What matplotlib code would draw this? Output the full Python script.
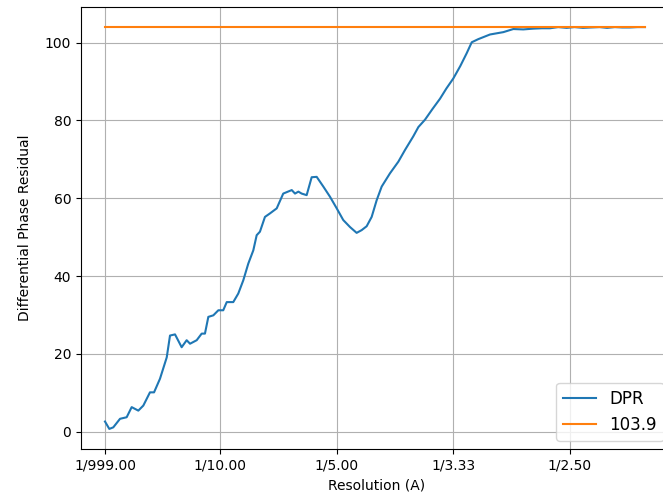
import numpy as np
import matplotlib.pyplot as plt


# spatial frequency (1/A) and differential phase residual
freq = [0.001, 0.0047, 0.0081, 0.0139, 0.0196, 0.0239, 0.0296, 0.0339, 0.0396, 0.0431,
        0.0482, 0.054, 0.0568, 0.0611, 0.0668, 0.0711, 0.074, 0.0797, 0.084, 0.0868,
        0.0897, 0.094, 0.0983, 0.1025, 0.1055, 0.1111, 0.1154, 0.1197, 0.124, 0.1283,
        0.1312, 0.134, 0.1383, 0.1426, 0.1484, 0.154, 0.1613, 0.1641, 0.167, 0.1698,
        0.1741, 0.1784, 0.1827, 0.1884, 0.1941, 0.1999, 0.2055, 0.2113, 0.217, 0.2213,
        0.2256, 0.2299, 0.2342, 0.2385, 0.2456, 0.2528, 0.2585, 0.2656, 0.2700, 0.2757,
        0.2820, 0.2886, 0.2940, 0.3, 0.3060, 0.3115, 0.3158, 0.3214, 0.3315, 0.3429,
        0.3515, 0.3600, 0.3686, 0.3760, 0.3830, 0.3900, 0.3973, 0.4040, 0.4113, 0.4180,
        0.4256, 0.4320, 0.4386, 0.4450, 0.4515, 0.4580, 0.4645]
dpr = [2.6, 0.7, 1.1, 3.3, 3.7, 6.3, 5.4, 6.7, 10.1, 10.1,
       13.6, 19.1, 24.7, 25.0, 21.7, 23.5, 22.6, 23.5, 25.2, 25.2,
       29.5, 29.9, 31.2, 31.2, 33.3, 33.3, 35.5, 38.9, 43.2, 46.6,
       50.5, 51.4, 55.2, 56.1, 57.4, 61.2, 62.1, 61.2, 61.7, 61.2,
       60.8, 65.4, 65.5, 63.0, 60.4, 57.4, 54.4, 52.6, 51.1, 51.8,
       52.8, 55.2, 59.5, 63.0, 66.4, 69.4, 72.4, 75.9, 78.3, 80.2,
       82.9, 85.6, 88.2, 90.8, 94.0, 97.3, 100.1, 100.9, 102.1, 102.7,
       103.5, 103.4, 103.6, 103.7, 103.7, 104.0, 103.8, 104.0, 103.8, 103.9,
       104.0, 103.8, 104.0, 103.9, 103.9, 104.0, 104.0]

thresh = 103.9
tick_pos = [1 / 999, 0.1, 0.2, 0.3, 0.4]

fig = plt.figure(figsize=(6.63, 5.03), dpi=100)
ax = fig.add_axes([81 / 663, 54 / 503, 591 / 663, 442 / 503])

ax.plot(freq, dpr, label='DPR')
ax.plot([freq[0], freq[-1]], [thresh, thresh], label=f'{thresh}')

ax.set_xlim(-0.0196, 0.4877)
ax.set_xticks(tick_pos)
ax.set_xticklabels([f'1/{1 / t:.2f}' for t in tick_pos])
ax.set_yticks([0, 20, 40, 60, 80, 100])
ax.grid(True)
ax.set_xlabel('Resolution (A)')
ax.set_ylabel('Differential Phase Residual', labelpad=9)
ax.legend(loc='lower right', fontsize=12)

plt.savefig('out.png', dpi=100)
